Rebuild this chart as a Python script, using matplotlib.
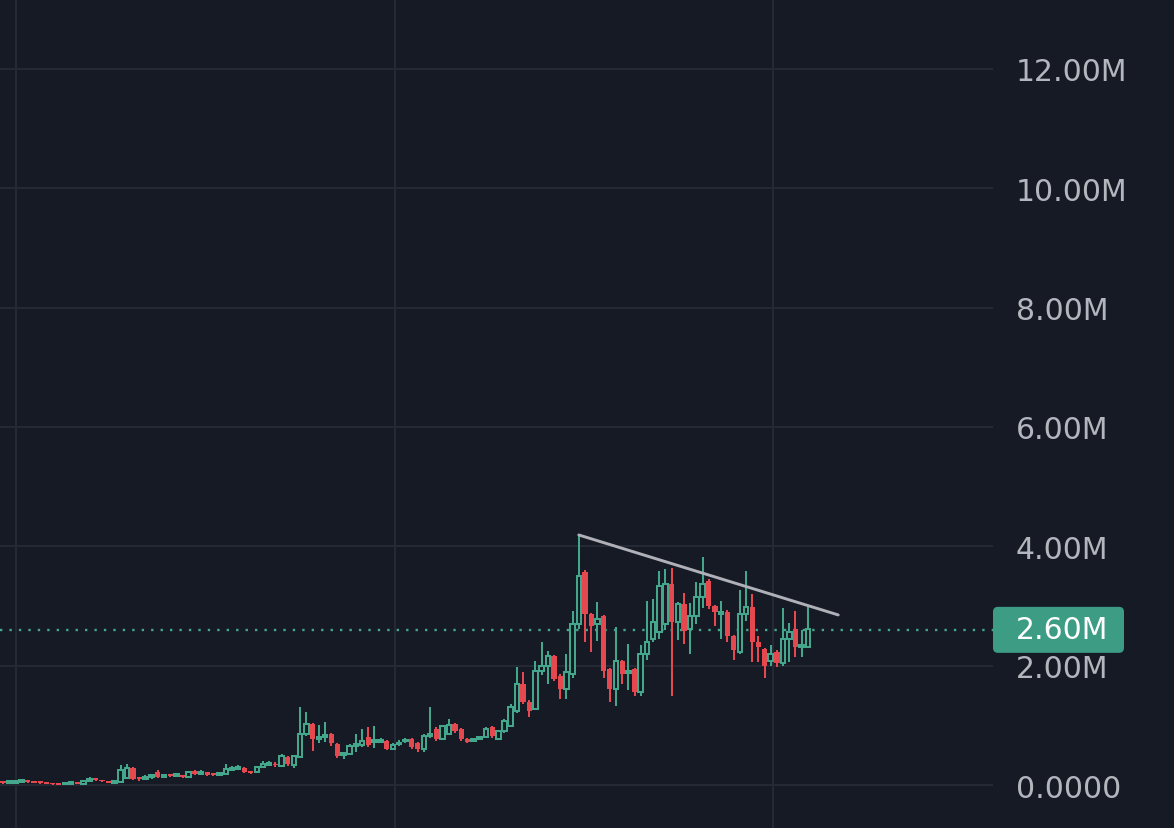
import matplotlib
matplotlib.use("Agg")
import matplotlib.pyplot as plt
from matplotlib.patches import FancyBboxPatch
from matplotlib.transforms import IdentityTransform

# candle data, in millions (one entry per candle, left to right)
opens = [0.05, 0.03, 0.04, 0.05, 0.06, 0.05, 0.04, 0.03, 0.02, 0.015,
         0.01, 0.02, 0.03, 0.02, 0.07, 0.10, 0.08, 0.06, 0.04, 0.05,
         0.12, 0.29, 0.12, 0.10, 0.13, 0.22, 0.14, 0.16, 0.15, 0.16,
         0.14, 0.24, 0.19, 0.21, 0.18, 0.17, 0.18, 0.26, 0.27, 0.28,
         0.22, 0.22, 0.30, 0.34, 0.36, 0.32, 0.47, 0.33, 0.47, 0.85,
         1.02, 0.77, 0.80, 0.85, 0.69, 0.50, 0.52, 0.66, 0.67, 0.81,
         0.72, 0.72, 0.74, 0.61, 0.68, 0.73, 0.77, 0.70, 0.60, 0.82,
         0.94, 0.77, 0.85, 1.02, 0.94, 0.77, 0.74, 0.77, 0.80, 0.97,
         0.77, 0.90, 0.99, 1.24, 1.69, 1.39, 1.27, 1.91, 1.99, 2.16,
         1.83, 1.61, 1.86, 2.70, 3.57, 2.86, 2.70, 2.83, 1.94, 1.61,
         2.08, 1.88, 1.94, 1.56, 2.19, 2.45, 2.57, 2.70, 3.37, 2.73,
         3.03, 2.61, 2.83, 3.15, 3.42, 3.00, 2.86, 2.90, 2.50, 2.23,
         2.86, 2.98, 2.40, 2.28, 2.07, 2.23, 2.05, 2.45, 2.61, 2.31,
         2.31]
closes = [0.03, 0.05, 0.05, 0.06, 0.05, 0.04, 0.03, 0.02, 0.01, 0.005,
          0.02, 0.03, 0.02, 0.07, 0.10, 0.08, 0.06, 0.04, 0.06, 0.25,
          0.28, 0.10, 0.10, 0.12, 0.16, 0.14, 0.15, 0.15, 0.16, 0.14,
          0.22, 0.18, 0.21, 0.17, 0.17, 0.19, 0.27, 0.28, 0.30, 0.22,
          0.20, 0.30, 0.35, 0.36, 0.33, 0.49, 0.35, 0.48, 0.85, 1.02,
          0.77, 0.80, 0.82, 0.70, 0.49, 0.52, 0.65, 0.68, 0.74, 0.67,
          0.74, 0.74, 0.61, 0.67, 0.71, 0.75, 0.63, 0.60, 0.82, 0.85,
          0.77, 0.99, 1.00, 0.90, 0.77, 0.72, 0.77, 0.79, 0.94, 0.82,
          0.90, 1.07, 1.31, 1.69, 1.39, 1.24, 1.91, 1.99, 2.16, 1.78,
          1.61, 1.89, 2.70, 3.50, 2.86, 2.66, 2.78, 1.91, 1.61, 2.08,
          1.86, 1.91, 1.56, 2.19, 2.40, 2.73, 3.33, 3.37, 2.73, 3.03,
          2.58, 2.83, 3.15, 3.37, 3.00, 2.90, 2.90, 2.50, 2.26, 2.86,
          2.98, 2.40, 2.31, 2.00, 2.19, 2.05, 2.45, 2.56, 2.31, 2.33,
          2.61]
highs = [0.06, 0.06, 0.06, 0.07, 0.07, 0.06, 0.05, 0.04, 0.03, 0.02,
         0.03, 0.04, 0.04, 0.08, 0.14, 0.12, 0.09, 0.07, 0.07, 0.33,
         0.35, 0.30, 0.14, 0.16, 0.18, 0.25, 0.18, 0.18, 0.19, 0.17,
         0.24, 0.26, 0.25, 0.22, 0.20, 0.21, 0.35, 0.32, 0.33, 0.30,
         0.24, 0.32, 0.40, 0.40, 0.38, 0.52, 0.49, 0.50, 1.31, 1.22,
         1.04, 1.00, 1.05, 0.88, 0.71, 0.55, 0.68, 0.85, 0.94, 0.98,
         0.99, 0.78, 0.76, 0.70, 0.75, 0.78, 0.79, 0.72, 0.85, 1.31,
         0.97, 1.01, 1.11, 1.04, 0.96, 0.79, 0.79, 0.81, 0.97, 0.99,
         0.93, 1.10, 1.35, 1.98, 1.90, 1.42, 2.08, 2.40, 2.25, 2.18,
         1.86, 2.19, 2.91, 4.19, 3.60, 2.88, 3.07, 2.85, 1.96, 2.65,
         2.10, 2.37, 1.96, 2.35, 3.09, 3.12, 3.59, 3.62, 3.64, 3.06,
         3.22, 3.05, 3.41, 3.82, 3.45, 3.02, 3.08, 2.93, 2.52, 3.26,
         3.58, 3.20, 2.50, 2.30, 2.35, 2.26, 2.97, 2.72, 2.92, 2.60,
         3.00]
lows = [0.02, 0.02, 0.03, 0.04, 0.04, 0.03, 0.02, 0.01, 0.00, 0.00,
        0.00, 0.01, 0.01, 0.02, 0.06, 0.07, 0.05, 0.03, 0.03, 0.04,
        0.10, 0.08, 0.07, 0.09, 0.10, 0.12, 0.12, 0.13, 0.13, 0.12,
        0.13, 0.16, 0.17, 0.15, 0.15, 0.16, 0.17, 0.24, 0.25, 0.20,
        0.18, 0.20, 0.29, 0.32, 0.30, 0.30, 0.32, 0.28, 0.45, 0.82,
        0.57, 0.70, 0.72, 0.66, 0.46, 0.44, 0.50, 0.55, 0.64, 0.64,
        0.62, 0.70, 0.58, 0.58, 0.66, 0.71, 0.60, 0.55, 0.55, 0.78,
        0.73, 0.75, 0.83, 0.87, 0.74, 0.70, 0.72, 0.75, 0.78, 0.79,
        0.75, 0.88, 0.97, 1.20, 1.35, 1.14, 1.25, 1.85, 1.70, 1.75,
        1.44, 1.44, 1.80, 2.62, 2.40, 2.23, 2.41, 1.80, 1.39, 1.32,
        1.70, 1.60, 1.50, 1.50, 2.10, 2.40, 2.45, 2.60, 1.50, 2.43,
        2.36, 2.20, 2.70, 2.97, 2.95, 2.66, 2.45, 2.40, 2.10, 2.20,
        2.75, 2.06, 2.06, 1.80, 2.00, 1.98, 2.00, 2.06, 2.15, 2.15,
        2.30]

y_ticks = [0, 2, 4, 6, 8, 10, 12]
y_labels = ["0.0000", "2.00M", "4.00M", "6.00M", "8.00M", "10.00M", "12.00M"]
last_price = 2.60
last_label = "2.60M"
trend_x = [93, 134.9]
trend_y = [4.19, 2.85]
date_grid = [2.1, 63.3, 124.3]

bg = "#161a25"
grid_c = "#262a35"
green = "#44a68a"
red = "#e5484f"
label_c = "#b4b6bd"

W, H = 1174, 829
fig = plt.figure(figsize=(W / 100, H / 100), dpi=100, facecolor=bg)
ax = fig.add_axes([0, 0, 993 / W, 1])
ax.set_facecolor(bg)
for s in ax.spines.values():
    s.set_visible(False)

ax.set_xlim(-0.48, 159.9)
ax.set_ylim(-0.72, 13.17)

# grid
for v in y_ticks:
    ax.axhline(v, color=grid_c, lw=1.4, zorder=0)
for d in date_grid:
    ax.axvline(d, color=grid_c, lw=1.4, zorder=0)

ax.set_xticks([])
ax.set_yticks(y_ticks)
ax.set_yticklabels(y_labels)
ax.yaxis.tick_right()
ax.tick_params(axis="y", length=0, pad=16.5, labelsize=21.5, labelcolor=label_c)

# last price dotted line
ax.axhline(last_price, color=green, lw=1.7, ls=(0, (1, 3)), zorder=1)

# candles
bw = 0.72
lw = 1.45
for i in range(len(opens)):
    o, c, h, l = opens[i], closes[i], highs[i], lows[i]
    top, bot = max(o, c), min(o, c)
    hgt = max(top - bot, 0.03)
    if c >= o:
        ax.vlines(i, top, h, color=green, lw=lw, zorder=2)
        ax.vlines(i, l, bot, color=green, lw=lw, zorder=2)
        ax.bar(i, hgt, bottom=bot, width=bw, facecolor=bg, edgecolor=green,
               linewidth=lw, zorder=3)
    else:
        ax.vlines(i, l, h, color=red, lw=lw, zorder=2)
        ax.bar(i, hgt, bottom=bot, width=bw + 0.12, color=red, linewidth=0, zorder=3)

# trend line
ax.plot(trend_x, trend_y, color="#b0b1b8", lw=2.1, zorder=4, solid_capstyle="round")

# last price tag on the scale
yc = ax.transData.transform((0, last_price))[1]
tag = FancyBboxPatch((993, yc - 23), 131, 46, boxstyle="round,pad=0,rounding_size=5",
                     transform=IdentityTransform(), facecolor="#3d9c84", edgecolor="none")
fig.add_artist(tag)
fig.text(1016, yc, last_label, transform=IdentityTransform(), color="white",
         fontsize=21.5, va="center", ha="left")

fig.savefig("out.png", dpi=100, facecolor=bg)
